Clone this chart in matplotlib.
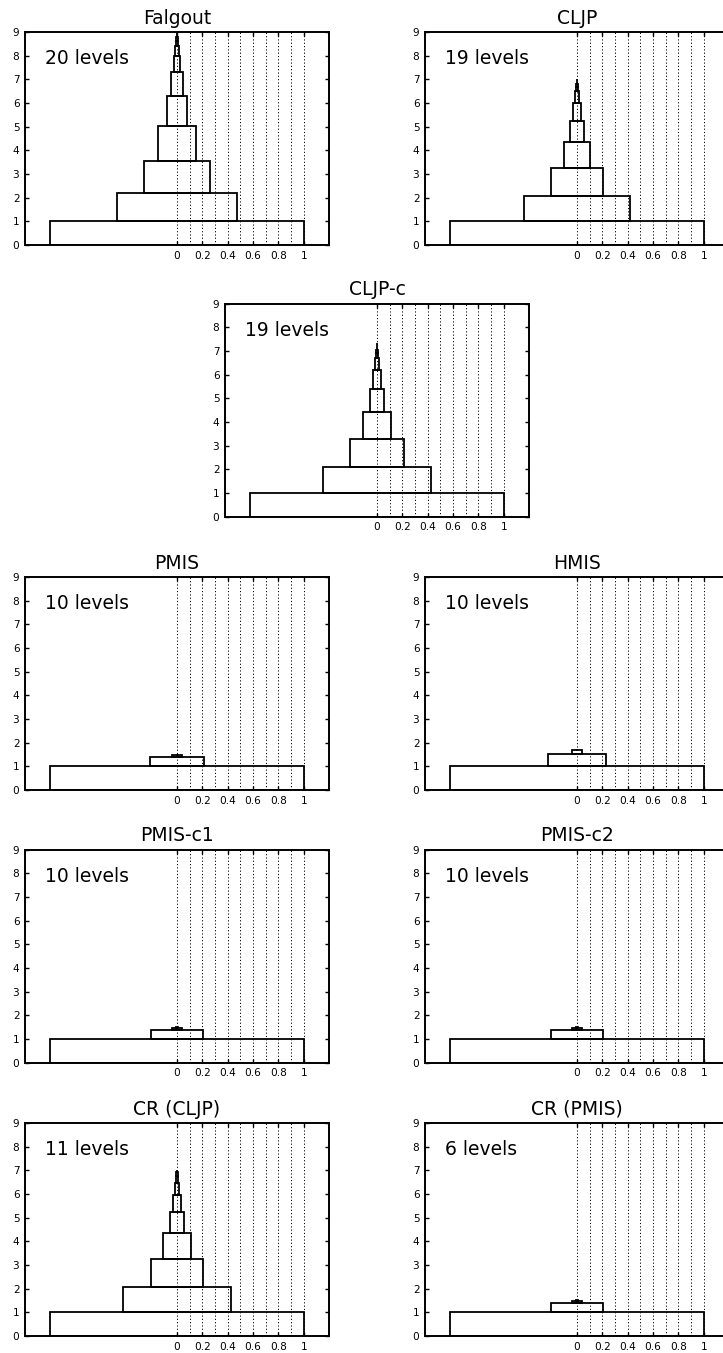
import numpy as np
import matplotlib
matplotlib.use('Agg')
import matplotlib.pyplot as plt
from matplotlib.ticker import FixedLocator, FormatStrFormatter

# relative grid size per level (half width of each box) and box height
fal_size = [1.0, 0.474, 0.263, 0.15, 0.077, 0.044, 0.024, 0.014, 0.008, 0.005,
            0.003, 0.002, 0.0014, 0.001, 0.0007, 0.0005, 0.0003, 0.0002, 0.0001, 0.00005]
fal_height = [1.0, 1.18, 1.39, 1.46, 1.28, 0.98, 0.71, 0.39, 0.23, 0.16,
              0.10, 0.06, 0.04, 0.03, 0.02, 0.02, 0.01, 0.01, 0.01, 0.01]

cljp_size = [1.0, 0.42, 0.205, 0.105, 0.053, 0.032, 0.017, 0.009, 0.005, 0.003,
             0.002, 0.0012, 0.0008, 0.0005, 0.0003, 0.0002, 0.0001, 0.00007, 0.00005]
cljp_height = [1.0, 1.07, 1.19, 1.10, 0.90, 0.72, 0.52, 0.18, 0.11, 0.07,
               0.05, 0.03, 0.02, 0.015, 0.01, 0.005, 0.005, 0.003, 0.002]

cljpc_size = [1.0, 0.43, 0.21, 0.108, 0.055, 0.033, 0.018, 0.01, 0.006, 0.0035,
              0.002, 0.0012, 0.0008, 0.0005, 0.0003, 0.0002, 0.0001, 0.00007, 0.00005]
cljpc_height = [1.0, 1.08, 1.21, 1.14, 0.98, 0.77, 0.52, 0.22, 0.14, 0.09,
                0.06, 0.04, 0.03, 0.02, 0.015, 0.01, 0.007, 0.005, 0.003]

pmis_size = [1.0, 0.21, 0.037, 0.008, 0.003, 0.0012, 0.0005, 0.0002, 0.0001, 0.00005]
pmis_height = [1.0, 0.38, 0.10, 0.02, 0.008, 0.004, 0.002, 0.001, 0.0005, 0.0003]

hmis_size = [1.0, 0.23, 0.042, 0.009, 0.003, 0.0012, 0.0005, 0.0002, 0.0001, 0.00005]
hmis_height = [1.0, 0.51, 0.16, 0.02, 0.008, 0.004, 0.002, 0.001, 0.0005, 0.0003]

c1_size = [1.0, 0.205, 0.038, 0.008, 0.003, 0.0012, 0.0005, 0.0002, 0.0001, 0.00005]
c1_height = [1.0, 0.38, 0.09, 0.02, 0.008, 0.004, 0.002, 0.001, 0.0005, 0.0003]

c2_size = [1.0, 0.204, 0.038, 0.008, 0.003, 0.0012, 0.0005, 0.0002, 0.0001, 0.00005]
c2_height = [1.0, 0.38, 0.10, 0.02, 0.008, 0.004, 0.002, 0.001, 0.0005, 0.0003]

crc_size = [1.0, 0.425, 0.207, 0.107, 0.054, 0.029, 0.015, 0.008, 0.004, 0.002, 0.001]
crc_height = [1.0, 1.08, 1.17, 1.10, 0.90, 0.70, 0.52, 0.28, 0.16, 0.08, 0.04]

crp_size = [1.0, 0.205, 0.036, 0.008, 0.003, 0.001]
crp_height = [1.0, 0.41, 0.09, 0.02, 0.008, 0.003]

W, H = 723, 1353
fig = plt.figure(figsize=(W / 100.0, H / 100.0), dpi=100)

# axes boxes in pixels: left, bottom (from top); right column runs off the page
ax_w, ax_h = 304, 213
panels = [
    ('Falgout', fal_size, fal_height, 25, 245),
    ('CLJP', cljp_size, cljp_height, 425, 245),
    ('CLJP-c', cljpc_size, cljpc_height, 225, 516.7),
    ('PMIS', pmis_size, pmis_height, 25, 790),
    ('HMIS', hmis_size, hmis_height, 425, 790),
    ('PMIS-c1', c1_size, c1_height, 25, 1062.7),
    ('PMIS-c2', c2_size, c2_height, 425, 1062.7),
    ('CR (CLJP)', crc_size, crc_height, 25, 1336),
    ('CR (PMIS)', crp_size, crp_height, 425, 1336),
]

for name, size, height, px, pbottom in panels:
    ax = fig.add_axes([px / W, (H - pbottom) / H, ax_w / W, ax_h / H])
    size = np.array(size)
    height = np.array(height)
    bottom = np.concatenate([[0], np.cumsum(height)[:-1]])
    ax.bar(np.zeros(len(size)), height, width=2 * size, bottom=bottom,
           fill=False, edgecolor='k', linewidth=1.3, align='center')

    ax.set_xlim(-1.2, 1.2)
    ax.set_ylim(0, 9)
    ax.set_xticks([0, 0.2, 0.4, 0.6, 0.8, 1.0])
    ax.xaxis.set_minor_locator(FixedLocator([0.1, 0.3, 0.5, 0.7, 0.9]))
    ax.xaxis.set_major_formatter(FormatStrFormatter('%g'))
    ax.set_yticks(range(10))
    ax.tick_params(which='major', direction='in', top=True, right=True,
                   length=3, width=1, labelsize=7.6, pad=4)
    ax.tick_params(which='minor', length=0)
    ax.xaxis.grid(True, which='both', color='k', linestyle=(0, (1.2, 2.2)), linewidth=0.7)
    for sp in ax.spines.values():
        sp.set_linewidth(1.4)

    ax.set_title(name, fontsize=13.5, pad=6)
    ax.text(0.066, 0.85, '%d levels' % len(size), transform=ax.transAxes,
            fontsize=13.5, va='baseline')

fig.savefig('out.png', dpi=100, facecolor='white')
